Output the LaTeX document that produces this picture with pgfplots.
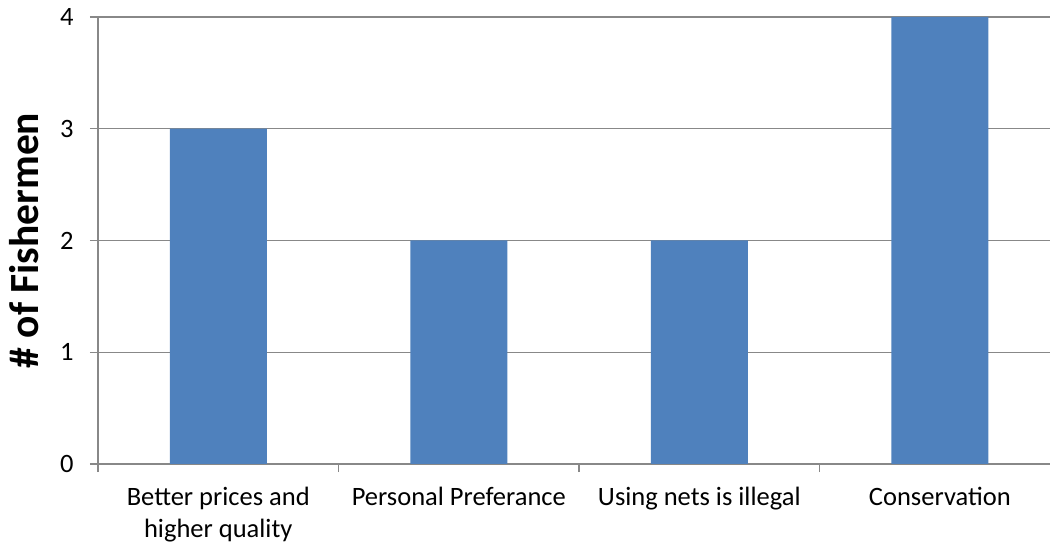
\documentclass[border=0pt]{standalone}
\usepackage{pgfplots}
\pgfplotsset{compat=1.18}
\usepackage{fontspec}
\setmainfont{Carlito}
\definecolor{barblue}{HTML}{4F81BD}
\definecolor{gridgray}{HTML}{888888}
\begin{document}
\begin{tikzpicture}
\begin{axis}[
  name=ax,
  at={(0,0)}, anchor=south west,
  scale only axis,
  width=952pt, height=447pt,
  ybar, bar width=97pt,
  xmin=-0.5, xmax=3.458,
  ymin=0, ymax=4,
  axis lines=left,
  axis line style={gridgray, line width=1.3pt, -},
  ytick={0,1,2,3,4},
  ymajorgrids,
  grid style={gridgray, line width=1.3pt},
  tick align=outside,
  major tick length=8pt,
  minor tick length=8pt,
  xtick={0,1,2,3},
  minor xtick={-0.5,0.5,1.5,2.5},
  major x tick style={draw=none},
  minor x tick style={gridgray, line width=1.3pt},
  major y tick style={gridgray, line width=1.3pt},
  xticklabels={{Better prices and\\higher quality}, Personal Preferance, Using nets is illegal, Conservation},
  xticklabel style={align=center, font=\fontsize{26.5}{32}\selectfont, yshift=-12pt},
  yticklabel style={font=\fontsize{26.5}{30}\selectfont, xshift=-13pt},
  /pgf/number format/assume math mode=true,
  every axis y label/.style={at={(axis description cs:0,0.5)}, xshift=-59pt, rotate=90, anchor=base},
  ylabel={\bfseries\fontsize{41.5}{46}\selectfont \# of Fishermen},
]
\addplot[fill=barblue, draw=none] coordinates {(0,3) (1,2) (2,2) (3,4)};
\end{axis}
\pgfresetboundingbox
\path[use as bounding box] ([shift={(-98pt,-82pt)}]ax.south west) rectangle ([shift={(952pt,464pt)}]ax.south west);
\end{tikzpicture}
\end{document}
